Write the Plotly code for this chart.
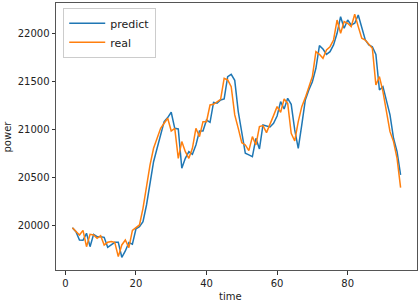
import plotly.graph_objects as go

time = list(range(2, 96))

predict = [
    19974, 19932, 19845, 19842, 19915, 19775, 19904, 19880, 19880, 19873,
    19768, 19793, 19821, 19821, 19664, 19730, 19818, 19800, 19960, 19984,
    20037, 20211, 20438, 20664, 20804, 20943, 21083, 21125, 21181, 21013,
    21006, 20595, 20699, 20769, 20741, 20839, 20985, 20985, 21100, 21076,
    21285, 21275, 21310, 21320, 21554, 21578, 21515, 21188, 20978, 20752,
    20735, 20717, 20909, 20797, 21048, 21041, 21027, 21066, 21142, 21292,
    21215, 21327, 21264, 20996, 20804, 21048, 21310, 21414, 21501, 21641,
    21878, 21843, 21787, 21815, 21885, 22007, 22181, 22059, 22146, 22094,
    22112, 22199, 22059, 21937, 21885, 21867, 21787, 21414, 21449, 21292,
    21153, 20909, 20769, 20525,
]

real = [
    19974, 19939, 19897, 19946, 19775, 19904, 19897, 19862, 19890, 19793,
    19821, 19828, 19821, 19671, 19793, 19845, 19765, 19946, 19974, 20002,
    20176, 20403, 20630, 20804, 20909, 21013, 21066, 21118, 20985, 21013,
    20699, 20874, 20769, 20699, 20804, 21013, 20926, 21083, 21083, 21257,
    21264, 21292, 21316, 21536, 21519, 21449, 21153, 21013, 20863, 20839,
    20780, 20926, 20839, 21031, 21041, 20968, 21066, 21146, 21240, 21181,
    21320, 21275, 20961, 20881, 21083, 21240, 21334, 21439, 21554, 21815,
    21787, 21745, 21833, 21867, 21937, 22146, 22007, 22129, 22112, 22077,
    22206, 22077, 21955, 21937, 21892, 21850, 21466, 21554, 21397, 21188,
    20978, 20874, 20699, 20392,
]

x_ticks = [0, 20, 40, 60, 80]
y_ticks = [20000, 20500, 21000, 21500, 22000]

font_family = "DejaVu Sans"
txt = "#222222"

fig = go.Figure()
fig.add_trace(go.Scatter(x=time, y=predict, mode="lines", name="predict",
                         line=dict(color="#1f77b4", width=1.5)))
fig.add_trace(go.Scatter(x=time, y=real, mode="lines", name="real",
                         line=dict(color="#ff7f0e", width=1.5)))

axis_common = dict(
    showline=True, mirror=True, linecolor="#555555", linewidth=1,
    showgrid=False, zeroline=False, automargin=False,
    ticks="outside", ticklen=3.5, tickwidth=0.8, tickcolor="#333333",
    tickfont=dict(family=font_family, size=10, color=txt),
)

fig.update_xaxes(range=[-2.65, 99.65], tickvals=x_ticks,
                 ticktext=[str(v) for v in x_ticks], **axis_common)
fig.update_yaxes(range=[19531, 22324], tickvals=y_ticks,
                 ticktext=[str(v) for v in y_ticks], **axis_common)

fig.add_annotation(text="time", xref="paper", yref="paper", x=0.484, y=-0.098,
                   xanchor="center", yanchor="middle", showarrow=False,
                   font=dict(family=font_family, size=10, color=txt))
fig.add_annotation(text="power", xref="paper", yref="paper", x=-0.133, y=0.5,
                   xanchor="center", yanchor="middle", showarrow=False, textangle=-90,
                   font=dict(family=font_family, size=10, color=txt))

fig.update_layout(
    width=419, height=302,
    margin=dict(l=56, r=2, t=3, b=32),
    paper_bgcolor="white", plot_bgcolor="white",
    showlegend=True,
    legend=dict(x=0.02, y=0.982, xanchor="left", yanchor="top",
                bgcolor="rgba(255,255,255,0.8)", bordercolor="#cccccc", borderwidth=1,
                font=dict(family=font_family, size=11, color=txt),
                tracegroupgap=4, itemwidth=36, entrywidth=128, entrywidthmode="pixels"),
)

fig.write_html("out.html", config={"displayModeBar": False},
               post_script="document.body.style.margin='0';document.body.style.overflow='hidden';")
